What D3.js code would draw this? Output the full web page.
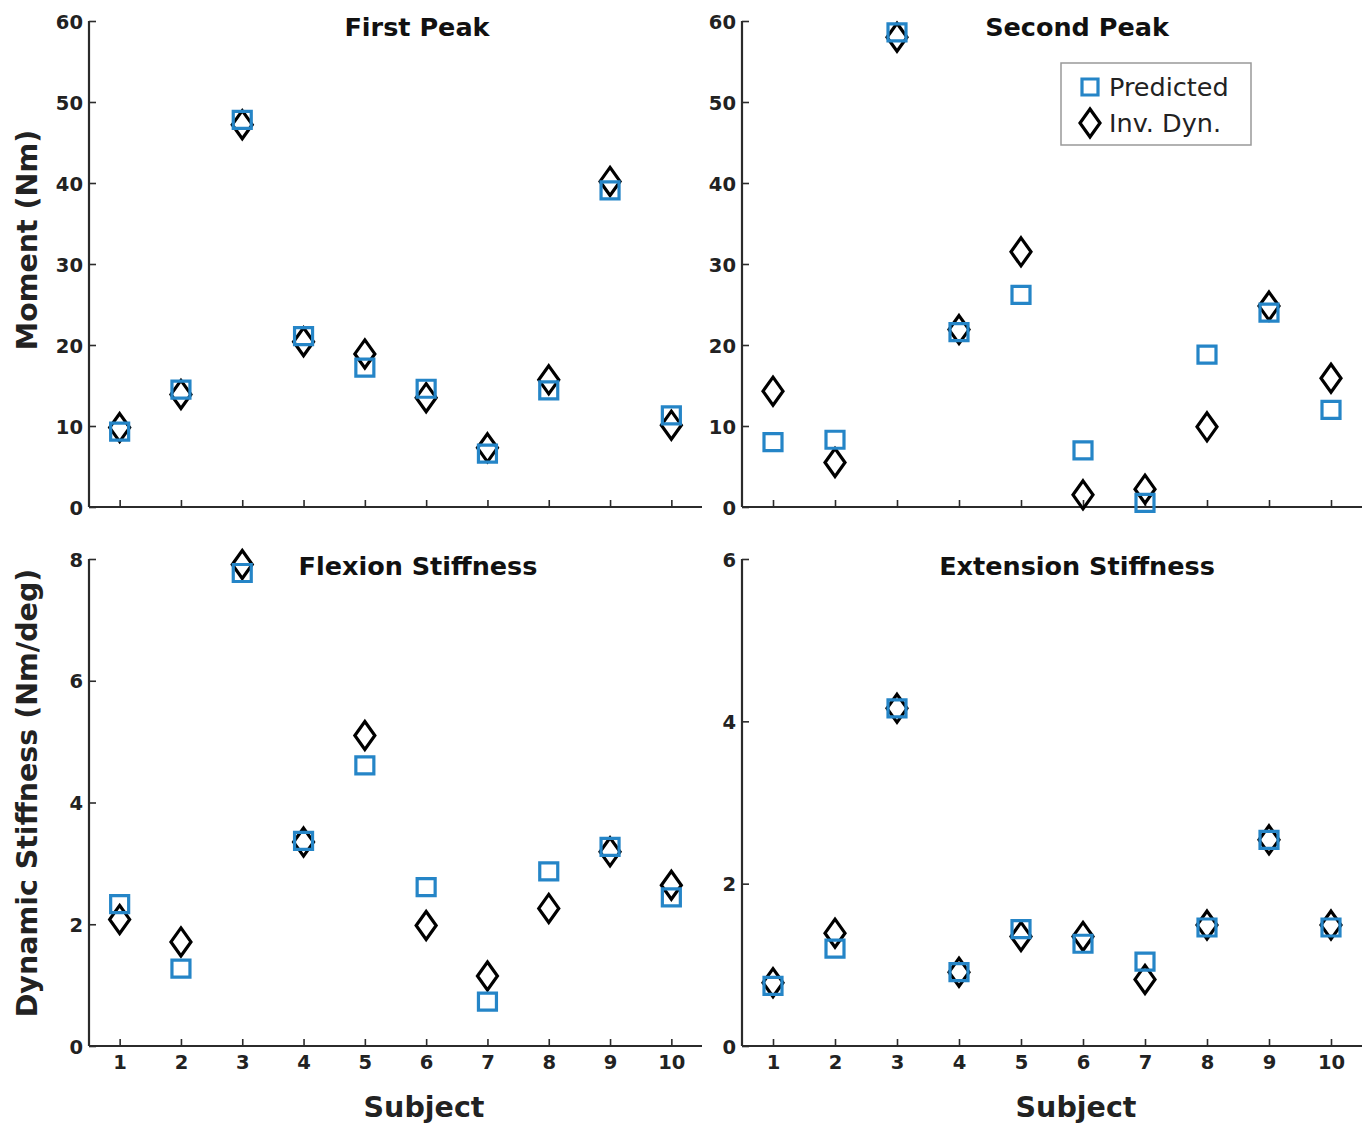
<!doctype html>
<html>
<head>
  <meta charset="utf8">
  <title>sketch</title>
  <style>
    body {
      margin: 0;
      padding: 0;
      background: #fff;
    }
    svg text {
      font-family: "DejaVu Sans", Verdana, sans-serif;
    }
  </style>
</head>
<body>
  <svg></svg>

  <script src="https://d3js.org/d3.v7.min.js"></script>
  <script>
    // Peak moments and dynamic stiffness per subject, predicted vs inverse dynamics
    const subjects = [1, 2, 3, 4, 5, 6, 7, 8, 9, 10]

    const firstPeakPredicted = [9.3, 14.5, 47.8, 21.1, 17.2, 14.6, 6.6, 14.4, 39.1, 11.3]
    const firstPeakInvDyn = [9.8, 13.9, 47.2, 20.4, 18.9, 13.5, 7.3, 15.7, 40.2, 10.1]

    const secondPeakPredicted = [8.0, 8.3, 58.6, 21.6, 26.2, 7.0, 0.5, 18.8, 24.0, 12.0]
    const secondPeakInvDyn = [14.3, 5.5, 58.0, 21.9, 31.5, 1.5, 2.2, 9.9, 24.8, 15.9]

    const flexionPredicted = [2.33, 1.27, 7.77, 3.37, 4.61, 2.61, 0.73, 2.87, 3.27, 2.44]
    const flexionInvDyn = [2.08, 1.71, 7.91, 3.35, 5.10, 1.98, 1.15, 2.26, 3.19, 2.64]

    const extensionPredicted = [0.74, 1.20, 4.16, 0.91, 1.44, 1.26, 1.04, 1.46, 2.54, 1.46]
    const extensionInvDyn = [0.78, 1.39, 4.16, 0.91, 1.35, 1.35, 0.82, 1.49, 2.54, 1.49]

    const momentTicks = [0, 10, 20, 30, 40, 50, 60]
    const flexionTicks = [0, 2, 4, 6, 8]
    const extensionTicks = [0, 2, 4, 6]

    const seriesNames = ['Predicted', 'Inv. Dyn.']

    const width = 1366
    const height = 1123
    const blue = '#2585c7'
    const axisColor = '#2b2b2b'

    const svg = d3.select('svg')
      .attr('width', width)
      .attr('height', height)

    const panels = [
      { title: 'First Peak', pred: firstPeakPredicted, inv: firstPeakInvDyn, ticks: momentTicks,
        x0: 89, x1: 702, y0: 507, y1: 21, titleX: 417, titleY: 36 },
      { title: 'Second Peak', pred: secondPeakPredicted, inv: secondPeakInvDyn, ticks: momentTicks,
        x0: 742, x1: 1362, y0: 507, y1: 21, titleX: 1077, titleY: 36 },
      { title: 'Flexion Stiffness', pred: flexionPredicted, inv: flexionInvDyn, ticks: flexionTicks,
        x0: 89, x1: 702, y0: 1046, y1: 559, titleX: 418, titleY: 575, xLabels: true },
      { title: 'Extension Stiffness', pred: extensionPredicted, inv: extensionInvDyn, ticks: extensionTicks,
        x0: 742, x1: 1362, y0: 1046, y1: 559, titleX: 1077, titleY: 575, xLabels: true }
    ]

    const squarePath = 'M-9,-8.5L9,-8.5L9,8.5L-9,8.5Z'
    const diamondPath = 'M0,-14L10,0L0,14L-10,0Z'

    panels.forEach(p => {
      const x = d3.scaleLinear().domain([0.5, 10.5]).range([p.x0, p.x1])
      const y = d3.scaleLinear().domain([0, d3.max(p.ticks)]).range([p.y0, p.y1])

      const g = svg.append('g')

      // x axis, ticks pointing inward
      const xAxis = g.append('g')
        .attr('transform', `translate(0,${p.y0})`)
        .call(d3.axisBottom(x).tickValues(subjects).tickSize(-7)
          .tickFormat(p.xLabels ? d3.format('d') : '').tickPadding(9))
      xAxis.select('.domain').attr('d', `M${p.x0},0H${p.x1}`)

      // y axis
      const yAxis = g.append('g')
        .attr('transform', `translate(${p.x0},0)`)
        .call(d3.axisLeft(y).tickValues(p.ticks).tickSize(-7).tickPadding(6)
          .tickFormat(d3.format('d')))
      yAxis.select('.domain').attr('d', `M0,${p.y0}V${p.y1}`)

      g.selectAll('.domain')
        .attr('stroke', axisColor)
        .attr('stroke-width', 2.2)
      g.selectAll('.tick line')
        .attr('stroke', axisColor)
        .attr('stroke-width', 1.6)
      g.selectAll('.tick text')
        .attr('fill', '#222')
        .style('font-size', '19.5px')
        .style('font-weight', 'bold')
        .style('font-family', '"DejaVu Sans", Verdana, sans-serif')
      yAxis.selectAll('.tick text').attr('dy', '0.36em')

      g.append('text')
        .attr('x', p.titleX)
        .attr('y', p.titleY)
        .attr('text-anchor', 'middle')
        .style('font-size', '25.5px')
        .style('font-weight', 'bold')
        .attr('fill', '#111')
        .text(p.title)

      // inverse dynamics diamonds
      g.selectAll('.inv')
        .data(subjects)
        .join('path')
        .attr('class', 'inv')
        .attr('d', diamondPath)
        .attr('transform', (d, i) => `translate(${x(d)},${y(p.inv[i])})`)
        .attr('fill', 'none')
        .attr('stroke', '#000')
        .attr('stroke-width', 3.2)

      // predicted squares
      g.selectAll('.pred')
        .data(subjects)
        .join('path')
        .attr('class', 'pred')
        .attr('d', squarePath)
        .attr('transform', (d, i) => `translate(${x(d)},${y(p.pred[i])})`)
        .attr('fill', 'none')
        .attr('stroke', blue)
        .attr('stroke-width', 3.2)
    })

    // axis labels
    svg.append('text')
      .attr('transform', 'translate(37,240) rotate(-90)')
      .attr('text-anchor', 'middle')
      .style('font-size', '28.5px')
      .style('font-weight', 'bold')
      .attr('fill', '#222')
      .text('Moment (Nm)')

    svg.append('text')
      .attr('transform', 'translate(37,793) rotate(-90)')
      .attr('text-anchor', 'middle')
      .style('font-size', '28.5px')
      .style('font-weight', 'bold')
      .attr('fill', '#222')
      .text('Dynamic Stiffness (Nm/deg)')

    ;[424, 1076].forEach(cx => {
      svg.append('text')
        .attr('x', cx)
        .attr('y', 1117)
        .attr('text-anchor', 'middle')
        .style('font-size', '28.5px')
        .style('font-weight', 'bold')
        .attr('fill', '#222')
        .text('Subject')
    })

    // legend
    const legend = svg.append('g')
    legend.append('rect')
      .attr('x', 1061)
      .attr('y', 63)
      .attr('width', 190)
      .attr('height', 82)
      .attr('fill', '#fff')
      .attr('stroke', '#999')
      .attr('stroke-width', 1.5)

    seriesNames.forEach((name, i) => {
      const cy = 87 + i * 36
      legend.append('path')
        .attr('d', i === 0 ? 'M-8,-8L8,-8L8,8L-8,8Z' : diamondPath)
        .attr('transform', `translate(1090,${cy})`)
        .attr('fill', 'none')
        .attr('stroke', i === 0 ? blue : '#000')
        .attr('stroke-width', 3.2)
      legend.append('text')
        .attr('x', 1109)
        .attr('y', cy + 9)
        .style('font-size', '25.5px')
        .attr('fill', '#222')
        .text(name)
    })
  </script>
</body>
</html>
